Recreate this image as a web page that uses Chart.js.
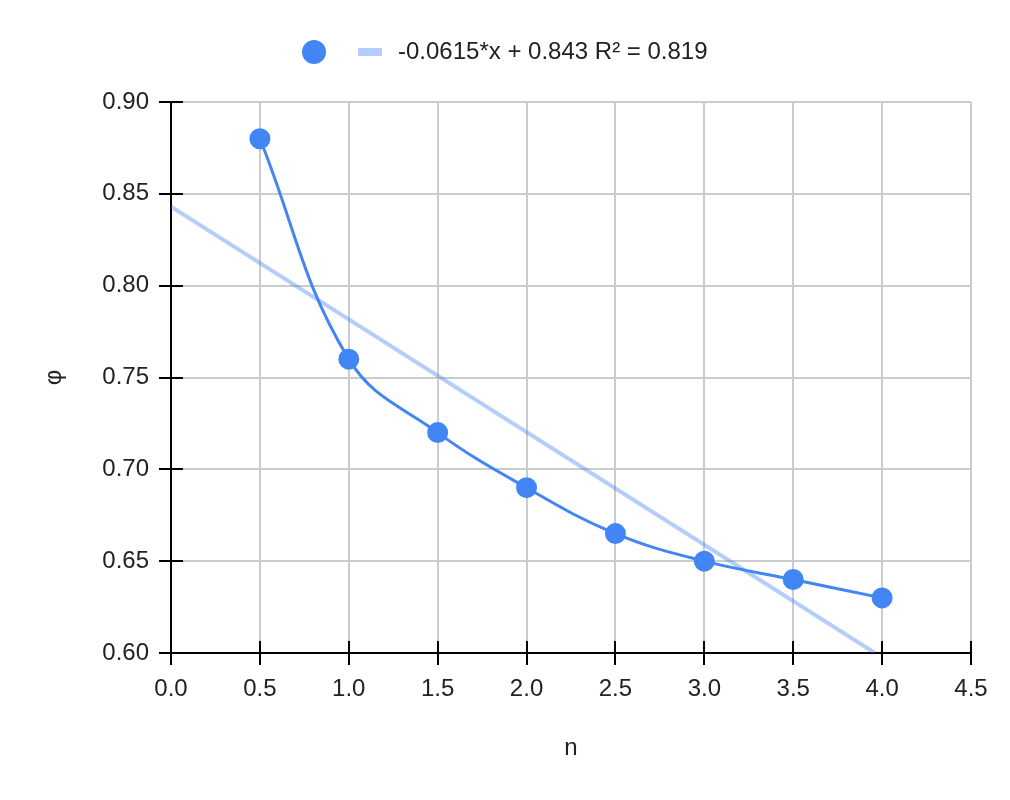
<!DOCTYPE html>
<html>
<head>
<meta charset="utf-8">
<script src="https://cdn.jsdelivr.net/npm/chart.js@4/dist/chart.umd.min.js"></script>
<style>
  html, body { margin: 0; padding: 0; background: #fff; }
  #wrap { position: relative; width: 1010px; height: 800px; }
  #legend {
    position: absolute; top: 36px; left: 0; width: 1010px;
    font-family: "Liberation Sans", Arial, sans-serif; font-size: 24px; color: #222;
  }
  #legend .dot { position: absolute; left: 302px; top: 4px; width: 24px; height: 24px; border-radius: 50%; background: #4285f4; }
  #legend .swatch { position: absolute; left: 358px; top: 12px; width: 24px; height: 8px; background: #b3cefb; }
  #legend .txt { position: absolute; left: 398px; top: 1px; white-space: nowrap; }
</style>
</head>
<body>
<div id="wrap">
  <canvas id="chart" width="1010" height="800"></canvas>
  <div id="legend"><span class="dot"></span><span class="swatch"></span><span class="txt" id="trendLabel"></span></div>
</div>
<script>
"use strict";

// data
var nValues   = [0.5, 1.0, 1.5, 2.0, 2.5, 3.0, 3.5, 4.0];
var phiValues = [0.88, 0.76, 0.72, 0.69, 0.665, 0.65, 0.64, 0.63];
// trendline end points (-0.0615*x + 0.843)
var trendX = [0, 3.96];
var trendY = [0.843, 0.6];
var trendLabel = "-0.0615*x + 0.843 R\u00b2 = 0.819";

document.getElementById("trendLabel").textContent = trendLabel;

var FONT = "'Liberation Sans', Arial, sans-serif";
var BLUE = "#4285f4";

var pts = nValues.map(function (x, i) { return { x: x, y: phiValues[i] }; });
var trend = trendX.map(function (x, i) { return { x: x, y: trendY[i] }; });

// short black ticks reaching into the plot area
var innerTicks = {
	id: "innerTicks",
	beforeDatasetsDraw: function (chart) {
		var ctx = chart.ctx, xs = chart.scales.x, ys = chart.scales.y, a = chart.chartArea;
		ctx.save();
		ctx.strokeStyle = "#000";
		ctx.lineWidth = 2;
		ctx.beginPath();
		xs.ticks.forEach(function (t) {
			var px = Math.round(xs.getPixelForValue(t.value));
			ctx.moveTo(px, a.bottom);
			ctx.lineTo(px, a.bottom - 12);
		});
		ys.ticks.forEach(function (t) {
			var py = Math.round(ys.getPixelForValue(t.value));
			ctx.moveTo(a.left, py);
			ctx.lineTo(a.left + 12, py);
		});
		ctx.stroke();
		ctx.restore();
	}
};

new Chart(document.getElementById("chart"), {
	type: "scatter",
	data: {
		datasets: [
			{
				data: pts,
				showLine: true,
				tension: 0.4,
				borderColor: BLUE,
				backgroundColor: BLUE,
				borderWidth: 3,
				pointRadius: 9,
				pointHoverRadius: 9
			},
			{
				data: trend,
				showLine: true,
				tension: 0,
				borderColor: "rgba(66,133,244,0.4)",
				borderWidth: 4,
				pointRadius: 0
			}
		]
	},
	options: {
		responsive: false,
		animation: false,
		layout: { padding: { top: 102, right: 39, left: 0, bottom: 0 } },
		plugins: { legend: { display: false }, tooltip: { enabled: false } },
		scales: {
			x: {
				type: "linear", min: 0, max: 4.5,
				afterFit: function (s) { s.height = 147; },
				ticks: { stepSize: 0.5, padding: 10, color: "#222", font: { family: FONT, size: 24 },
					callback: function (v) { return v.toFixed(1); } },
				grid: { color: "#cccccc", lineWidth: 2, tickLength: 12, tickColor: "#000", tickWidth: 2 },
				border: { color: "#000", width: 2 },
				title: { display: true, text: "n", color: "#222", font: { family: FONT, size: 24 }, padding: { top: 0, bottom: 37 } }
			},
			y: {
				type: "linear", min: 0.6, max: 0.9,
				afterFit: function (s) { s.width = 171; },
				ticks: { stepSize: 0.05, padding: 10, color: "#222", font: { family: FONT, size: 24 },
					callback: function (v) { return v.toFixed(2); } },
				grid: { color: "#cccccc", lineWidth: 2, tickLength: 12, tickColor: "#000", tickWidth: 2 },
				border: { color: "#000", width: 2 },
				title: { display: true, text: "\u03c6", color: "#222", font: { family: FONT, size: 24 }, padding: { top: 40, bottom: 0 } }
			}
		}
	},
	plugins: [innerTicks]
});
</script>
</body>
</html>
